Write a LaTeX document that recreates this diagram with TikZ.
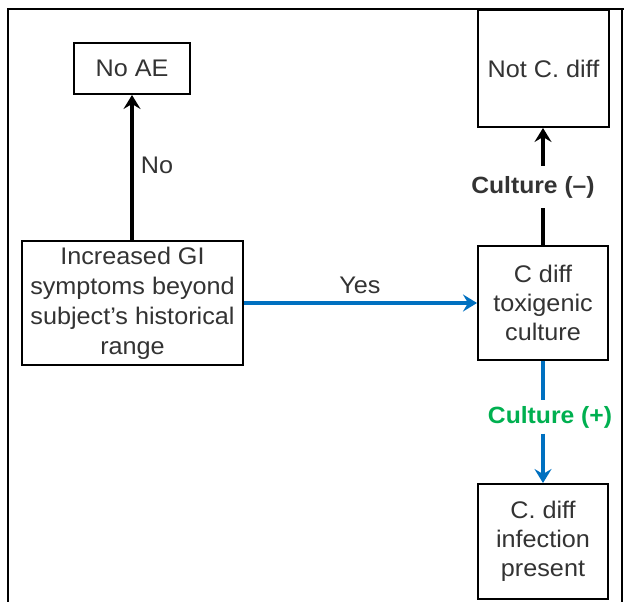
\documentclass[tikz,border=0pt]{standalone}
\usepackage{fontspec}
\setmainfont[FakeStretch=1.05]{Liberation Sans}
\usetikzlibrary{arrows.meta,calc}

\definecolor{txtgray}{HTML}{333333}
\definecolor{flowblue}{HTML}{0070C0}
\definecolor{posgreen}{HTML}{00B050}

\begin{document}
\begin{tikzpicture}[x=1pt,y=-1pt,
    box/.style={draw=black,line width=2pt,fill=white,align=center,
        text=txtgray,inner sep=2pt,font=\fontsize{24}{30}\selectfont},
    lbl/.style={text=txtgray,inner xsep=2pt,text height=17pt,text depth=5pt,
        font=\fontsize{24}{30}\selectfont},
    blk/.style={draw=black,line width=4pt},
    blu/.style={draw=flowblue,line width=4pt},
    tip/.style={-{Stealth[length=14pt,width=17pt,inset=5pt]}}]

    %\draw[step=10,help lines] (0,0) grid (624,602);
    \useasboundingbox (0,0) rectangle (624,602);

    % frame, open at the bottom
    \draw[line width=2pt] (8,602) -- (8,9) -- (624,9);
    \draw[line width=2pt] (622,9) -- (622,602);

    \node[box,minimum width=116pt,minimum height=51pt] (noae) at (132,68.5) {No AE};
    \node[box,minimum width=131pt,minimum height=117pt] (notcdiff) at (543.5,68.5) {Not C. diff};
    \node[box,minimum width=221pt,minimum height=124pt] (gisymp) at (132.5,303)
        {Increased GI\\symptoms beyond\\subject's historical\\range};
    \node[box,minimum width=130pt,minimum height=114pt,font=\fontsize{24}{29}\selectfont] (toxcult) at (543,303)
        {C diff\\toxigenic\\culture};
    \node[box,minimum width=130pt,minimum height=115pt,font=\fontsize{24}{29}\selectfont] (infect) at (543,541.5)
        {C. diff\\infection\\present};

    \node[lbl] (no) at (157,167) {No};
    \node[lbl] (yes) at (360,287) {Yes};
    \node[lbl,inner ysep=10pt,font=\bfseries\fontsize{23.5}{30}\selectfont] (culneg) at (533,187) {Culture (\textendash)};
    \node[lbl,inner ysep=5.5pt,text=posgreen,font=\bfseries\fontsize{23.5}{30}\selectfont] (culpos) at (550,417) {Culture (+)};

    \draw[blk,tip] (gisymp.north -| noae.south) -- (noae.south);
    \draw[blu,tip] (gisymp.east) -- (toxcult.west);
    \draw[blk] (toxcult.north) -- (toxcult.north |- culneg.south);
    \draw[blk,tip] (toxcult.north |- culneg.north) -- (notcdiff.south -| toxcult.north);
    \draw[blu] (toxcult.south) -- (toxcult.south |- culpos.north);
    \draw[blu,tip] (toxcult.south |- culpos.south) -- (infect.north);
\end{tikzpicture}
\end{document}
